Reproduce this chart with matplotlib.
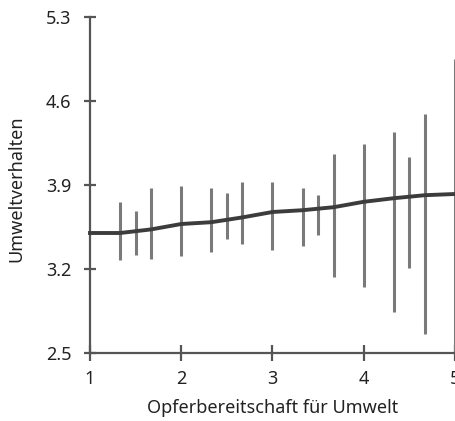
import matplotlib.pyplot as plt
import matplotlib

matplotlib.rcParams['font.family'] = ['Noto Sans', 'DejaVu Sans']

# Mittelwertkurve (geglättet)
line_x = [1.0, 1.33, 1.67, 2.0, 2.33, 2.67, 3.0, 3.33, 3.67, 4.0, 4.33, 4.67, 5.0]
line_y = [3.50, 3.50, 3.53, 3.575, 3.59, 3.63, 3.675, 3.69, 3.715, 3.76, 3.79, 3.815, 3.825]

# Fehlerbalken: Position, unteres und oberes Ende
bar_x = [1.33, 1.5, 1.67, 2.0, 2.33, 2.5, 2.67, 3.0, 3.33, 3.5, 3.67, 4.0, 4.33, 4.5, 4.67, 5.0]
bar_lo = [3.275, 3.32, 3.285, 3.31, 3.34, 3.45, 3.41, 3.36, 3.39, 3.48, 3.135, 3.05, 2.845, 3.21, 2.66, 2.5]
bar_hi = [3.76, 3.685, 3.875, 3.89, 3.875, 3.835, 3.925, 3.925, 3.875, 3.815, 4.16, 4.24, 4.34, 4.135, 4.49, 4.95]

x_ticks = [1, 2, 3, 4, 5]
y_ticks = [2.5, 3.2, 3.9, 4.6, 5.3]

fig = plt.figure(figsize=(4.56, 4.21), dpi=100)
ax = fig.add_axes([90 / 456, 68 / 421, 365 / 456, 336 / 421])

ax.vlines(bar_x, bar_lo, bar_hi, colors='#7a7a7a', linewidth=2.2, clip_on=False, zorder=2)
ax.plot(line_x, line_y, color='#3c3c3c', linewidth=2.8, clip_on=False, zorder=3)

ax.set_xlim(1, 5)
ax.set_ylim(2.5, 5.3)
ax.set_xticks(x_ticks)
ax.set_yticks(y_ticks)
ax.set_xticklabels([str(t) for t in x_ticks])
ax.set_yticklabels(['%.1f' % t for t in y_ticks])

for s in ['top', 'right']:
    ax.spines[s].set_visible(False)
for s in ['left', 'bottom']:
    ax.spines[s].set_color('#555555')
    ax.spines[s].set_linewidth(1.6)

ax.tick_params(axis='both', direction='inout', width=1.6, color='#555555',
               labelsize=13, labelcolor='#222222')
ax.tick_params(axis='x', length=11, pad=7)
ax.tick_params(axis='y', length=9, pad=9)

ax.set_xlabel('Opferbereitschaft für Umwelt', fontsize=13, color='#222222', labelpad=8)
ax.set_ylabel('Umweltverhalten', fontsize=13, color='#222222')
ax.yaxis.set_label_coords(-0.178, 0.49)

fig.savefig('out.png', dpi=100)
